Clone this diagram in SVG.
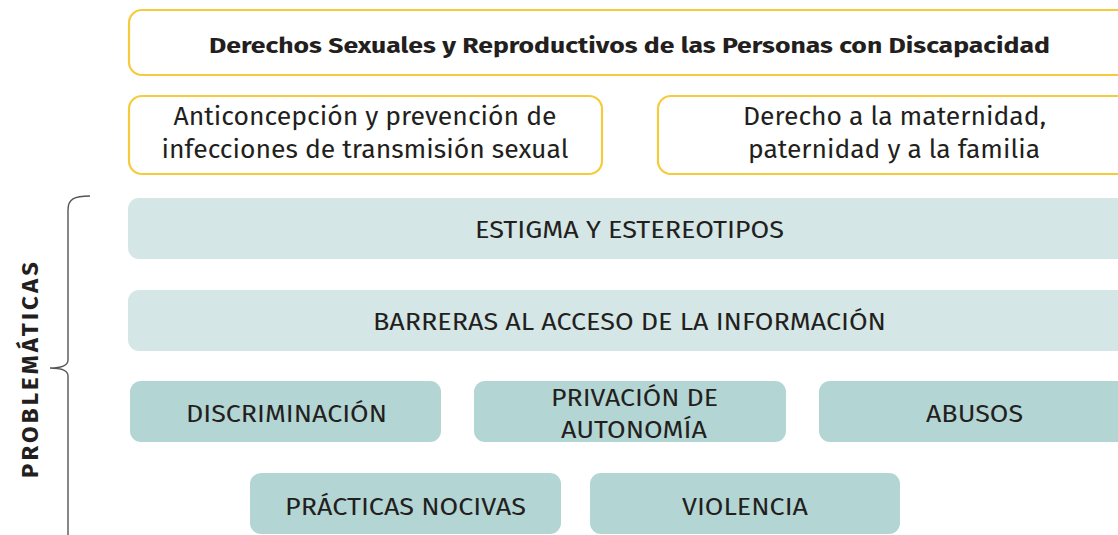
<svg xmlns="http://www.w3.org/2000/svg" width="1118" height="535" viewBox="0 0 1118 535">
<style>
.y{fill:#fff;stroke:#F5CB3C;stroke-width:2.2}
.l{fill:#D4E6E5}
.d{fill:#B3D5D3}
text{font-family:"Fira Sans","Noto Sans","Open Sans",sans-serif;fill:#231f20;text-anchor:middle}
.t{font-size:22px;font-weight:700}
.s{font-size:25px}
.b{font-size:24px}
</style>
<rect width="1118" height="535" fill="#fff"/>
<g id="title"><rect class="y" x="129" y="10" width="1010" height="65" rx="13"/><text class="t" x="629.5" y="53" textLength="841" lengthAdjust="spacingAndGlyphs">Derechos Sexuales y Reproductivos de las Personas con Discapacidad</text></g>
<g id="anticoncepcion"><rect class="y" x="129" y="96" width="473" height="78" rx="13"/><text class="s" x="365" y="125" textLength="383" lengthAdjust="spacingAndGlyphs">Anticoncepción y prevención de</text><text class="s" x="365" y="158" textLength="407" lengthAdjust="spacingAndGlyphs">infecciones de transmisión sexual</text></g>
<g id="maternidad"><rect class="y" x="658" y="96" width="480" height="78" rx="13"/><text class="s" x="894.5" y="125" textLength="303" lengthAdjust="spacingAndGlyphs">Derecho a la maternidad,</text><text class="s" x="894" y="158" textLength="292" lengthAdjust="spacingAndGlyphs">paternidad y a la familia</text></g>
<g id="estigma"><rect class="l" x="128" y="198" width="1010" height="61" rx="11"/><text class="b" x="629.5" y="238" textLength="309" lengthAdjust="spacingAndGlyphs">ESTIGMA Y ESTEREOTIPOS</text></g>
<g id="barreras"><rect class="l" x="128" y="290" width="1010" height="61" rx="11"/><text class="b" x="629.5" y="330" textLength="513" lengthAdjust="spacingAndGlyphs">BARRERAS AL ACCESO DE LA INFORMACIÓN</text></g>
<g id="discriminacion"><rect class="d" x="130" y="381" width="311" height="61" rx="11"/><text class="b" x="286.5" y="422" textLength="201" lengthAdjust="spacingAndGlyphs">DISCRIMINACIÓN</text></g>
<g id="privacion"><rect class="d" x="474" y="381" width="312" height="61" rx="11"/><text class="b" x="634.5" y="406" textLength="167" lengthAdjust="spacingAndGlyphs">PRIVACIÓN DE</text><text class="b" x="634" y="438" textLength="146" lengthAdjust="spacingAndGlyphs">AUTONOMÍA</text></g>
<g id="abusos"><rect class="d" x="819" y="381" width="320" height="61" rx="11"/><text class="b" x="974.5" y="422" textLength="97" lengthAdjust="spacingAndGlyphs">ABUSOS</text></g>
<g id="practicas"><rect class="d" x="250" y="473" width="311" height="61" rx="11"/><text class="b" x="405.5" y="515" textLength="241" lengthAdjust="spacingAndGlyphs">PRÁCTICAS NOCIVAS</text></g>
<g id="violencia"><rect class="d" x="590" y="473" width="310" height="61" rx="11"/><text class="b" x="745" y="515" textLength="126" lengthAdjust="spacingAndGlyphs">VIOLENCIA</text></g>
<g id="connectors"><path d="M90 196 C74 196 68 199 68 210 L68 360 C68 366 62 368 50 368 C62 368 68 370 68 376 L68 535" fill="none" stroke="#555" stroke-width="1.4"/></g>
<g id="label"><text transform="translate(38 370) rotate(-90)" style="font-size:24px;font-weight:700" textLength="216" lengthAdjust="spacing">PROBLEMÁTICAS</text></g>
</svg>
